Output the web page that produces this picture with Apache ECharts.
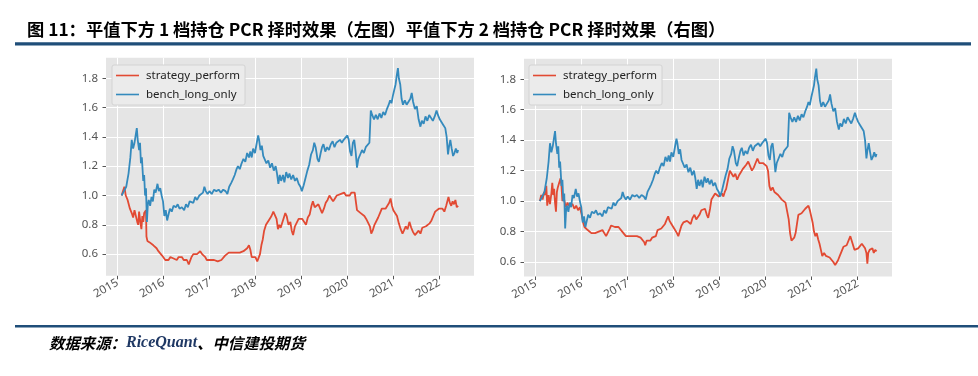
<!DOCTYPE html>
<html><head><meta charset="utf-8">
<script src="https://cdn.jsdelivr.net/npm/echarts@6/dist/echarts.min.js"></script>
<style>html,body{margin:0;padding:0;background:#fff}#c{width:978px;height:376px}</style>
</head><body><div id="c"></div>
<script>
const titleText = '图 11：平值下方 1 档持仓 PCR 择时效果（左图）平值下方 2 档持仓 PCR 择时效果（右图）';
const yearTicks = [2015, 2016, 2017, 2018, 2019, 2020, 2021, 2022];
const yTicks = [0.6, 0.8, 1.0, 1.2, 1.4, 1.6, 1.8];
const seriesNames = ['strategy_perform', 'bench_long_only'];

const benchX = [2015.09,2015.14,2015.19,2015.24,2015.28,2015.31,2015.34,2015.37,2015.40,2015.42,2015.44,2015.47,2015.49,2015.51,2015.53,2015.56,2015.58,2015.60,2015.62,2015.64,2015.66,2015.68,2015.71,2015.74,2015.77,2015.80,2015.83,2015.87,2015.90,2015.93,2015.96,2015.99,2016.02,2016.05,2016.08,2016.11,2016.14,2016.18,2016.22,2016.27,2016.31,2016.35,2016.40,2016.45,2016.49,2016.53,2016.57,2016.60,2016.65,2016.69,2016.73,2016.78,2016.82,2016.86,2016.89,2016.92,2016.96,2017.00,2017.05,2017.10,2017.15,2017.20,2017.25,2017.30,2017.35,2017.39,2017.43,2017.48,2017.51,2017.55,2017.59,2017.62,2017.66,2017.70,2017.74,2017.78,2017.82,2017.86,2017.89,2017.92,2017.95,2017.99,2018.03,2018.06,2018.08,2018.11,2018.14,2018.17,2018.21,2018.24,2018.28,2018.32,2018.36,2018.40,2018.44,2018.47,2018.50,2018.53,2018.56,2018.60,2018.63,2018.67,2018.71,2018.74,2018.78,2018.82,2018.86,2018.90,2018.94,2018.98,2019.01,2019.05,2019.09,2019.13,2019.17,2019.21,2019.25,2019.28,2019.31,2019.35,2019.38,2019.42,2019.45,2019.48,2019.52,2019.56,2019.60,2019.64,2019.68,2019.72,2019.76,2019.80,2019.84,2019.88,2019.92,2019.96,2020.00,2020.03,2020.06,2020.09,2020.12,2020.15,2020.18,2020.21,2020.24,2020.28,2020.32,2020.36,2020.40,2020.44,2020.48,2020.51,2020.54,2020.58,2020.62,2020.66,2020.70,2020.74,2020.78,2020.82,2020.86,2020.90,2020.93,2020.96,2020.99,2021.02,2021.05,2021.07,2021.10,2021.12,2021.15,2021.18,2021.21,2021.25,2021.29,2021.33,2021.37,2021.40,2021.43,2021.47,2021.51,2021.55,2021.59,2021.62,2021.66,2021.70,2021.74,2021.78,2021.82,2021.86,2021.90,2021.94,2021.97,2022.01,2022.05,2022.09,2022.13,2022.16,2022.19,2022.21,2022.24,2022.27,2022.30,2022.33,2022.36,2022.39,2022.41];
const benchY = [1.00,1.03,1.06,1.15,1.26,1.38,1.32,1.36,1.42,1.46,1.38,1.31,1.36,1.22,1.26,1.10,1.14,1.00,1.05,0.82,0.94,0.97,0.93,0.99,0.96,1.04,1.02,1.08,1.03,1.05,1.00,0.96,0.86,0.90,0.83,0.87,0.91,0.89,0.93,0.92,0.94,0.91,0.92,0.90,0.94,0.92,0.96,0.97,0.95,0.99,0.97,1.00,0.99,1.02,1.06,1.03,1.01,1.03,1.01,1.04,1.03,1.04,1.02,1.04,1.03,1.01,1.06,1.09,1.11,1.14,1.18,1.20,1.18,1.22,1.25,1.23,1.29,1.26,1.30,1.26,1.32,1.29,1.36,1.41,1.38,1.31,1.34,1.27,1.28,1.22,1.24,1.19,1.22,1.17,1.20,1.15,1.08,1.14,1.10,1.14,1.09,1.16,1.12,1.15,1.11,1.14,1.10,1.12,1.08,1.06,1.03,1.07,1.12,1.17,1.21,1.28,1.31,1.36,1.33,1.25,1.23,1.29,1.33,1.35,1.30,1.33,1.31,1.35,1.37,1.33,1.36,1.35,1.38,1.36,1.38,1.37,1.41,1.38,1.30,1.27,1.36,1.38,1.30,1.19,1.25,1.28,1.31,1.29,1.33,1.34,1.36,1.58,1.55,1.52,1.55,1.52,1.56,1.53,1.57,1.55,1.59,1.62,1.65,1.63,1.68,1.72,1.76,1.81,1.87,1.80,1.76,1.66,1.62,1.65,1.62,1.64,1.66,1.70,1.64,1.59,1.61,1.52,1.47,1.51,1.49,1.54,1.51,1.55,1.53,1.51,1.54,1.58,1.55,1.52,1.50,1.48,1.46,1.40,1.28,1.33,1.38,1.32,1.27,1.29,1.32,1.29,1.31];

const leftX = [2015.09,2015.12,2015.15,2015.18,2015.22,2015.27,2015.31,2015.34,2015.37,2015.41,2015.43,2015.45,2015.47,2015.50,2015.52,2015.54,2015.56,2015.58,2015.60,2015.62,2015.63,2015.65,2015.67,2015.70,2015.74,2015.78,2015.81,2015.85,2015.89,2015.93,2015.97,2016.00,2016.04,2016.08,2016.11,2016.15,2016.18,2016.22,2016.26,2016.29,2016.33,2016.37,2016.40,2016.44,2016.48,2016.51,2016.55,2016.58,2016.61,2016.65,2016.69,2016.73,2016.76,2016.80,2016.84,2016.87,2016.91,2016.94,2016.98,2017.02,2017.06,2017.10,2017.14,2017.18,2017.22,2017.26,2017.30,2017.34,2017.38,2017.42,2017.46,2017.50,2017.54,2017.58,2017.62,2017.66,2017.70,2017.74,2017.78,2017.82,2017.86,2017.89,2017.92,2017.96,2018.00,2018.04,2018.07,2018.10,2018.13,2018.16,2018.19,2018.23,2018.27,2018.31,2018.35,2018.39,2018.43,2018.46,2018.49,2018.52,2018.55,2018.58,2018.62,2018.65,2018.68,2018.72,2018.76,2018.79,2018.82,2018.86,2018.90,2018.94,2018.98,2019.02,2019.06,2019.10,2019.14,2019.18,2019.22,2019.25,2019.29,2019.33,2019.37,2019.41,2019.45,2019.49,2019.53,2019.57,2019.61,2019.65,2019.69,2019.73,2019.77,2019.81,2019.85,2019.89,2019.93,2019.97,2020.01,2020.05,2020.09,2020.13,2020.16,2020.18,2020.21,2020.25,2020.29,2020.33,2020.37,2020.41,2020.45,2020.49,2020.52,2020.55,2020.59,2020.63,2020.67,2020.71,2020.75,2020.79,2020.83,2020.87,2020.91,2020.94,2020.97,2021.00,2021.04,2021.08,2021.12,2021.16,2021.20,2021.23,2021.27,2021.31,2021.35,2021.39,2021.43,2021.47,2021.51,2021.55,2021.59,2021.63,2021.67,2021.71,2021.75,2021.79,2021.83,2021.87,2021.91,2021.95,2021.99,2022.03,2022.07,2022.11,2022.15,2022.18,2022.20,2022.23,2022.26,2022.29,2022.32,2022.35,2022.38,2022.41];
const leftY = [1.00,1.03,1.06,1.00,0.97,0.91,0.88,0.85,0.90,0.89,0.82,0.80,0.89,0.81,0.77,0.86,0.82,0.88,0.87,0.90,0.72,0.69,0.70,0.68,0.69,0.66,0.67,0.64,0.62,0.61,0.59,0.60,0.56,0.55,0.56,0.58,0.57,0.57,0.58,0.56,0.58,0.57,0.58,0.56,0.57,0.56,0.53,0.54,0.58,0.60,0.61,0.60,0.61,0.62,0.60,0.60,0.58,0.56,0.56,0.56,0.55,0.56,0.56,0.55,0.56,0.56,0.57,0.59,0.60,0.61,0.60,0.61,0.60,0.61,0.60,0.61,0.62,0.62,0.63,0.64,0.66,0.63,0.58,0.57,0.58,0.55,0.54,0.60,0.66,0.70,0.76,0.80,0.81,0.84,0.86,0.89,0.88,0.84,0.77,0.80,0.78,0.81,0.85,0.88,0.86,0.80,0.82,0.76,0.73,0.79,0.80,0.84,0.85,0.84,0.82,0.80,0.85,0.87,0.93,0.96,0.92,0.91,0.94,0.93,0.88,0.91,0.95,0.97,1.00,0.98,0.96,0.98,1.00,0.99,1.01,1.00,1.02,1.00,1.01,1.00,1.02,1.01,1.02,0.97,0.90,0.89,0.88,0.87,0.86,0.84,0.83,0.79,0.74,0.76,0.80,0.81,0.85,0.88,0.91,0.90,0.91,0.93,0.95,0.98,0.93,0.90,0.89,0.86,0.81,0.77,0.74,0.76,0.79,0.77,0.82,0.78,0.75,0.73,0.72,0.76,0.74,0.78,0.77,0.79,0.78,0.81,0.83,0.86,0.89,0.90,0.91,0.90,0.91,0.89,0.93,0.94,0.99,0.95,0.93,0.96,0.94,0.97,0.92,0.93];

const rightX = [2015.09,2015.12,2015.15,2015.18,2015.21,2015.23,2015.25,2015.28,2015.31,2015.34,2015.36,2015.38,2015.40,2015.42,2015.44,2015.46,2015.48,2015.51,2015.54,2015.56,2015.58,2015.60,2015.63,2015.66,2015.69,2015.72,2015.76,2015.80,2015.84,2015.88,2015.92,2015.96,2016.00,2016.03,2016.06,2016.09,2016.13,2016.17,2016.21,2016.25,2016.29,2016.33,2016.37,2016.41,2016.45,2016.49,2016.53,2016.57,2016.61,2016.64,2016.68,2016.72,2016.76,2016.80,2016.84,2016.88,2016.92,2016.96,2017.00,2017.04,2017.08,2017.12,2017.16,2017.20,2017.24,2017.28,2017.32,2017.36,2017.38,2017.41,2017.45,2017.49,2017.53,2017.57,2017.61,2017.65,2017.69,2017.73,2017.77,2017.81,2017.85,2017.88,2017.91,2017.95,2017.99,2018.03,2018.07,2018.10,2018.13,2018.17,2018.21,2018.25,2018.29,2018.33,2018.37,2018.41,2018.45,2018.49,2018.52,2018.56,2018.60,2018.64,2018.68,2018.72,2018.75,2018.79,2018.82,2018.86,2018.90,2018.94,2018.98,2019.02,2019.05,2019.08,2019.11,2019.14,2019.18,2019.22,2019.26,2019.30,2019.34,2019.38,2019.42,2019.46,2019.50,2019.54,2019.58,2019.62,2019.66,2019.70,2019.74,2019.78,2019.82,2019.86,2019.90,2019.94,2019.98,2020.02,2020.05,2020.08,2020.11,2020.15,2020.19,2020.23,2020.27,2020.31,2020.35,2020.39,2020.43,2020.47,2020.50,2020.53,2020.56,2020.59,2020.62,2020.65,2020.68,2020.71,2020.74,2020.78,2020.82,2020.86,2020.90,2020.93,2020.96,2020.99,2021.02,2021.05,2021.08,2021.11,2021.14,2021.17,2021.20,2021.23,2021.27,2021.31,2021.35,2021.39,2021.43,2021.47,2021.51,2021.54,2021.57,2021.61,2021.65,2021.69,2021.72,2021.76,2021.80,2021.84,2021.86,2021.89,2021.93,2021.97,2022.01,2022.05,2022.09,2022.13,2022.16,2022.19,2022.21,2022.23,2022.26,2022.29,2022.32,2022.35,2022.38,2022.41];
const rightY = [1.00,1.04,1.01,1.06,1.04,1.10,0.97,1.04,0.98,1.05,1.12,1.04,1.08,0.99,0.93,1.06,1.09,1.12,1.15,1.10,1.00,1.04,0.99,0.96,0.99,0.97,0.96,0.98,0.95,0.97,0.94,0.96,0.91,0.86,0.83,0.82,0.81,0.80,0.79,0.80,0.79,0.79,0.80,0.79,0.81,0.80,0.77,0.78,0.82,0.84,0.84,0.83,0.84,0.83,0.82,0.80,0.79,0.77,0.78,0.77,0.78,0.77,0.78,0.77,0.77,0.76,0.77,0.73,0.71,0.74,0.75,0.74,0.76,0.75,0.77,0.81,0.80,0.82,0.83,0.85,0.88,0.90,0.87,0.85,0.83,0.81,0.79,0.77,0.80,0.84,0.86,0.85,0.87,0.86,0.85,0.89,0.91,0.88,0.87,0.91,0.94,0.93,0.95,0.91,0.89,0.95,1.01,1.03,1.05,1.06,1.03,1.02,1.05,1.03,1.06,1.08,1.14,1.20,1.18,1.16,1.18,1.14,1.17,1.19,1.21,1.20,1.24,1.26,1.23,1.20,1.22,1.25,1.28,1.25,1.24,1.25,1.24,1.23,1.20,1.10,1.07,1.09,1.06,1.07,1.04,1.03,1.01,1.02,0.99,0.99,0.88,0.79,0.74,0.73,0.76,0.79,0.85,0.91,0.91,0.92,0.93,0.95,0.96,0.97,0.94,0.90,0.86,0.80,0.77,0.79,0.75,0.72,0.68,0.64,0.66,0.64,0.65,0.63,0.62,0.60,0.58,0.59,0.61,0.64,0.67,0.70,0.69,0.71,0.72,0.77,0.78,0.72,0.68,0.67,0.69,0.70,0.72,0.71,0.69,0.66,0.59,0.66,0.68,0.67,0.69,0.66,0.68,0.67];

const RED = '#E24A33', BLUE = '#348ABD';
const zip = (xs, ys) => xs.map((x, i) => [x, ys[i]]);

const chart = echarts.init(document.getElementById('c'), null, {renderer: 'canvas'});

const TICK_FONT = '"Noto Sans", "DejaVu Sans", sans-serif';
function xAxisFor(gi, min, max) {
  return {
    type: 'value', gridIndex: gi, min: min, max: max,
    axisLine: {show: false},
    axisTick: {show: true, length: 3.5, customValues: yearTicks, lineStyle: {color: '#555', width: 1}},
    axisLabel: {customValues: yearTicks, rotate: 30, margin: 6, color: '#555', fontSize: 11.5,
      fontFamily: TICK_FONT, formatter: v => String(Math.round(v))},
    splitLine: {show: true, lineStyle: {color: '#fff', width: 1}}
  };
}
function yAxisFor(gi, min, max) {
  return {
    type: 'value', gridIndex: gi, min: min, max: max,
    axisLine: {show: false},
    axisTick: {show: true, length: 3.5, customValues: yTicks, lineStyle: {color: '#555', width: 1}},
    axisLabel: {customValues: yTicks, margin: 8, color: '#555', fontSize: 11.5,
      fontFamily: TICK_FONT, formatter: v => v.toFixed(1)},
    splitLine: {show: true, lineStyle: {color: '#fff', width: 1}}
  };
}
function legendFor(left, top) {
  return {
    show: true, left: left, top: top, orient: 'vertical', data: seriesNames,
    icon: 'rect', itemWidth: 23, itemHeight: 1.6, itemGap: 4,
    padding: [3, 5, 3, 4], backgroundColor: '#EBEBEB', borderColor: '#D3D3D3', borderWidth: 1, borderRadius: 2,
    textStyle: {fontSize: 11.5, color: '#222', fontFamily: TICK_FONT, lineHeight: 15, padding: [0, 0, 0, 2]}
  };
}
function line(name, gi, data, color) {
  return {
    name: name, type: 'line', xAxisIndex: gi, yAxisIndex: gi, data: data,
    showSymbol: false, symbol: 'none', lineStyle: {color: color, width: 1.8}, itemStyle: {color: color},
    animation: false, silent: true
  };
}

chart.setOption({
  animation: false,
  backgroundColor: '#fff',
  grid: [
    {left: 106, top: 57.8, width: 368, height: 218, show: true, backgroundColor: '#E5E5E5', borderWidth: 0},
    {left: 524, top: 58.7, width: 368, height: 217.8, show: true, backgroundColor: '#E5E5E5', borderWidth: 0}
  ],
  xAxis: [xAxisFor(0, 2014.75, 2022.755), xAxisFor(1, 2014.745, 2022.746)],
  yAxis: [yAxisFor(0, 0.452, 1.94), yAxisFor(1, 0.505, 1.935)],
  legend: [legendFor(112, 65), legendFor(529, 65)],
  series: [
    line(seriesNames[0], 0, zip(leftX, leftY), RED),
    line(seriesNames[1], 0, zip(benchX, benchY), BLUE),
    line(seriesNames[0], 1, zip(rightX, rightY), RED),
    line(seriesNames[1], 1, zip(benchX, benchY), BLUE)
  ],
  graphic: [
    {type: 'text', left: 27, top: 21, style: {text: titleText, font: 'bold 17.3px "Noto Sans CJK SC"', fill: '#000'}},
    {type: 'rect', shape: {x: 15, y: 42.3, width: 956, height: 3.2}, style: {fill: '#1F4E79'}},
    {type: 'rect', shape: {x: 15, y: 325, width: 963, height: 2.5}, style: {fill: '#1F4E79'}},
    {type: 'text', left: 49, top: 335, style: {
      text: '{a|数据来源：}{b|RiceQuant}{a|、中信建投期货}',
      rich: {
        a: {font: 'italic bold 15.4px "Noto Sans CJK SC"', fill: '#000'},
        b: {font: 'italic bold 16px "Liberation Serif"', fill: '#1F3864'}
      }
    }}
  ]
});
</script>
</body></html>
